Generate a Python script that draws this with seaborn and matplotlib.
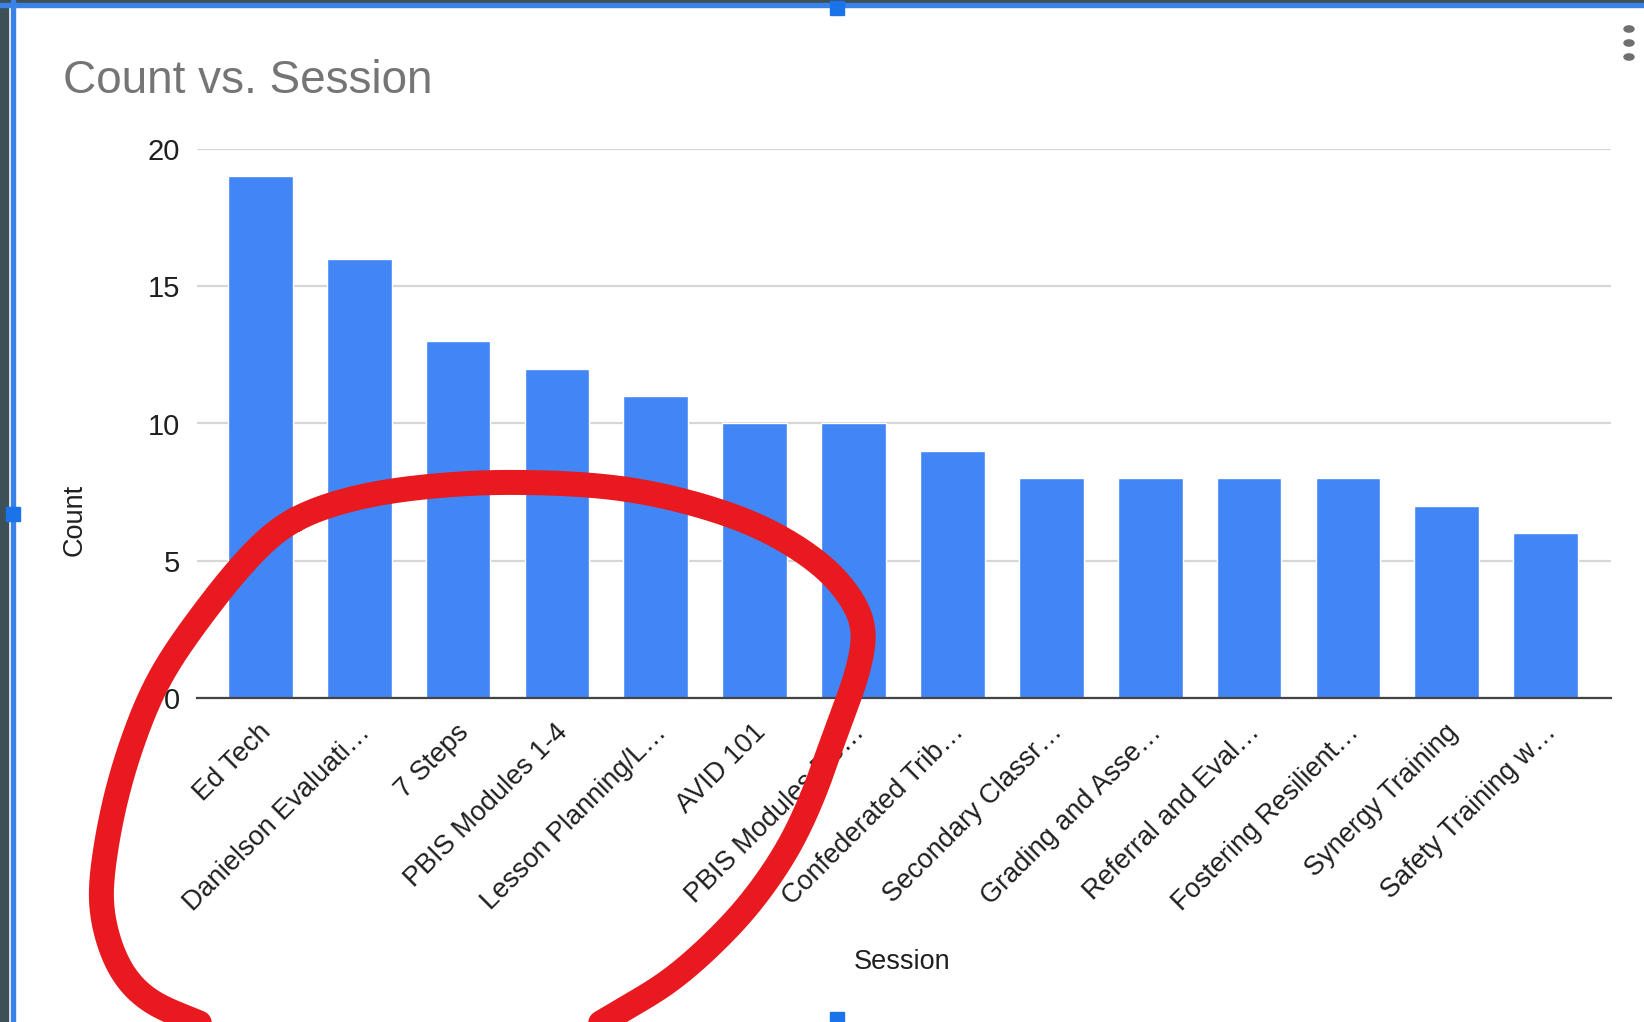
import numpy as np
import matplotlib
matplotlib.use("Agg")
import matplotlib.pyplot as plt
import matplotlib.transforms as mtransforms
from matplotlib.lines import Line2D
from matplotlib.patches import Rectangle, Circle
import seaborn as sns

# ---- data ----
sessions = ["Ed Tech", "Danielson Evaluati…", "7 Steps", "PBIS Modules 1-4",
            "Lesson Planning/L…", "AVID 101", "PBIS Modules Re…",
            "Confederated Trib…", "Secondary Classr…", "Grading and Asse…",
            "Referral and Eval…", "Fostering Resilient…", "Synergy Training",
            "Safety Training w…"]
counts = [19, 16, 13, 12, 11, 10, 10, 9, 8, 8, 8, 8, 7, 6]
y_ticks = [0, 5, 10, 15, 20]
title = "Count vs. Session"
x_label = "Session"
y_label = "Count"

sns.set_theme(style="white")
plt.rcParams['font.family'] = ['Liberation Sans', 'DejaVu Sans']

W, H = 1644, 1022
fig = plt.figure(figsize=(W / 100, H / 100), dpi=100)
fig.patch.set_facecolor("white")
ax = fig.add_axes([197 / W, 1 - 698 / H, (1611 - 197) / W, (698 - 149) / H])

sns.barplot(x=sessions, y=counts, color="#4285f4", saturation=1, width=0.655,
            ax=ax, zorder=3)

ax.set_ylim(0, 20)
ax.set_xlim(-0.64, len(sessions) - 1 + 0.66)
ax.set_yticks(y_ticks)
ax.set_yticklabels([str(v) for v in y_ticks], fontsize=21, color="#1f1f1f")
ax.grid(axis="y", color="#d6d6d6", linewidth=1.6, zorder=0)
ax.grid(axis="x", visible=False)
for s in ["top", "right", "left"]:
    ax.spines[s].set_visible(False)
ax.spines["bottom"].set_color("#444444")
ax.spines["bottom"].set_linewidth(1.6)
ax.spines["bottom"].set_zorder(4)
ax.tick_params(axis="y", length=0, pad=12)
ax.tick_params(axis="x", length=0, pad=22)

ax.set_xticks(range(len(sessions)))
ax.set_xticklabels(sessions, rotation=45, ha="right", va="center",
                   rotation_mode="anchor", fontsize=19.5, color="#1f1f1f")
offset = mtransforms.ScaledTranslation(0.07, 0, fig.dpi_scale_trans)
for lab in ax.get_xticklabels():
    lab.set_transform(lab.get_transform() + offset)

ax.set_xlabel(x_label, fontsize=19.5, color="#1f1f1f")
ax.set_ylabel(y_label, fontsize=19.5, color="#1f1f1f")
ax.xaxis.set_label_coords((902 - 197) / (1611 - 197), -(949 - 698) / (698 - 149))
ax.yaxis.set_label_coords(-(197 - 88) / (1611 - 197), (698 - 520) / (698 - 149))

fig.text(63 / W, 1 - 81 / H, title, fontsize=33, color="#757575",
         ha="left", va="center")

# ---- screenshot frame ----
fig.add_artist(Rectangle((0, 0), 8 / W, 1, transform=fig.transFigure,
                         color="#3d4f57", zorder=5))
fig.add_artist(Rectangle((0, 1 - 3 / H), 1, 3 / H, transform=fig.transFigure,
                         color="#3d4f57", zorder=5))
fig.add_artist(Rectangle((11 / W, 0), 4 / W, 1, transform=fig.transFigure,
                         color="#3b82e6", zorder=5))
fig.add_artist(Rectangle((0, 1 - 7 / H), 1, 4 / H, transform=fig.transFigure,
                         color="#3b82e6", zorder=5))
for (hx, hy) in [(837, 8), (13, 514), (837, 1019)]:
    fig.add_artist(Rectangle(((hx - 7) / W, 1 - (hy + 7) / H), 14 / W, 14 / H,
                             transform=fig.transFigure, color="#1a73e8", zorder=6))
for dy in [29, 43, 57]:
    fig.add_artist(Circle((1629 / W, 1 - dy / H), 5 / W, transform=fig.transFigure,
                          color="#6f6f6f", zorder=6))

# ---- hand-drawn red annotation loop ----
loop_pts = np.array([
    (280, 495), (350, 472), (430, 462), (500, 460), (580, 464), (650, 477),
    (720, 500), (775, 532), (808, 565), (824, 600), (818, 640), (806, 675),
    (793, 710), (777, 755), (754, 805), (723, 852), (688, 892), (640, 935),
    (590, 965), (540, 990), (400, 1010), (250, 995), (184, 973), (140, 953),
    (112, 920), (97, 870), (99, 821), (112, 754), (133, 689), (157, 638),
    (193, 586), (235, 534)]) * (W / 1568.0)

def catmull_closed(pts, n=20):
    out = []
    m = len(pts)
    for i in range(m):
        p0, p1, p2, p3 = pts[(i - 1) % m], pts[i], pts[(i + 1) % m], pts[(i + 2) % m]
        for t in np.linspace(0, 1, n, endpoint=False):
            t2, t3 = t * t, t * t * t
            out.append(0.5 * ((2 * p1) + (-p0 + p2) * t +
                              (2 * p0 - 5 * p1 + 4 * p2 - p3) * t2 +
                              (-p0 + 3 * p1 - 3 * p2 + p3) * t3))
    return np.array(out)

curve = catmull_closed(loop_pts)
# light periodic smoothing for a hand-drawn look without kinks
k = 15
kern = np.exp(-0.5 * (np.arange(-k, k + 1) / (k / 2.5)) ** 2)
kern /= kern.sum()
sm = np.empty_like(curve)
for j in range(2):
    ext = np.concatenate([curve[-k:, j], curve[:, j], curve[:k, j]])
    sm[:, j] = np.convolve(ext, kern, mode="valid")
sm = np.vstack([sm, sm[:1]])
fig.add_artist(Line2D(sm[:, 0] / W, 1 - sm[:, 1] / H, transform=fig.transFigure,
                      color="#e8191f", linewidth=18, solid_capstyle="round",
                      solid_joinstyle="round", zorder=7))

fig.savefig("out.png", dpi=100)
